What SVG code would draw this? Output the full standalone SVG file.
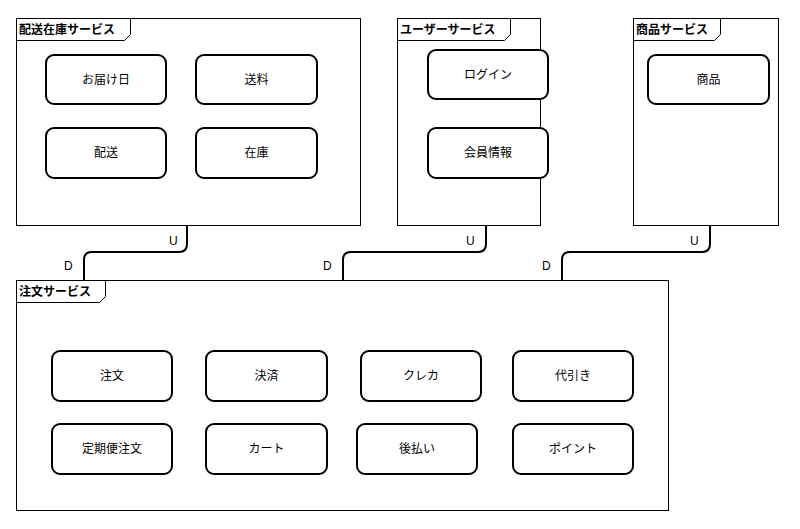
<svg xmlns="http://www.w3.org/2000/svg" width="800" height="529" viewBox="0 0 800 529">
<style>
.fr{fill:#fff;stroke:#000;stroke-width:1}
.tab{fill:#fff;stroke:#000;stroke-width:1}
.tt{font-family:"Liberation Sans","Noto Sans CJK JP",sans-serif;font-size:12px;font-weight:bold}
.nd{fill:#fff;stroke:#000;stroke-width:2}
.nt{font-family:"Liberation Sans","Noto Sans CJK JP",sans-serif;font-size:12px;text-anchor:middle;dominant-baseline:central}
.cn{fill:none;stroke:#000;stroke-width:2}
.lb{font-family:"Liberation Sans","Noto Sans CJK JP",sans-serif;font-size:12px}
</style>
<rect width="800" height="529" fill="#fff"/>
<g id="frame-haiso">
<rect class="fr" x="16.5" y="18.5" width="344" height="207"/>
<path class="tab" d="M16.5 18.5H130.5V34.5L124.5 40.5H16.5Z"/>
<text class="tt" x="19" y="34">配送在庫サービス</text>
</g>
<g id="frame-user">
<rect class="fr" x="397.5" y="18.5" width="143" height="207"/>
<path class="tab" d="M397.5 18.5H510.5V34.5L504.5 40.5H397.5Z"/>
<text class="tt" x="400" y="34">ユーザーサービス</text>
</g>
<g id="frame-shohin">
<rect class="fr" x="633.5" y="18.5" width="145" height="207"/>
<path class="tab" d="M633.5 18.5H720.5V34.5L714.5 40.5H633.5Z"/>
<text class="tt" x="636" y="34">商品サービス</text>
</g>
<g id="frame-order">
<rect class="fr" x="16.5" y="280.5" width="652" height="230"/>
<path class="tab" d="M16.5 280.5H105.5V296.5L99.5 302.5H16.5Z"/>
<text class="tt" x="19" y="296">注文サービス</text>
</g>
<g id="n-otodoke"><rect class="nd" x="46" y="55" width="120" height="49" rx="8"/><text class="nt" x="106" y="79.5">お届け日</text></g>
<g id="n-soryo"><rect class="nd" x="196" y="55" width="121" height="49" rx="8"/><text class="nt" x="256.5" y="79.5">送料</text></g>
<g id="n-haiso"><rect class="nd" x="46" y="128" width="120" height="50" rx="8"/><text class="nt" x="106" y="153">配送</text></g>
<g id="n-zaiko"><rect class="nd" x="196" y="128" width="121" height="50" rx="8"/><text class="nt" x="256.5" y="153">在庫</text></g>
<g id="n-login"><rect class="nd" x="428" y="50" width="120" height="49" rx="8"/><text class="nt" x="488" y="74.5">ログイン</text></g>
<g id="n-kaiin"><rect class="nd" x="428" y="128" width="120" height="50" rx="8"/><text class="nt" x="488" y="153">会員情報</text></g>
<g id="n-shohin"><rect class="nd" x="648" y="55" width="121" height="49" rx="8"/><text class="nt" x="708.5" y="79.5">商品</text></g>
<g id="n-chumon"><rect class="nd" x="52" y="351" width="120" height="50" rx="8"/><text class="nt" x="112" y="376">注文</text></g>
<g id="n-kessai"><rect class="nd" x="206" y="351" width="121" height="50" rx="8"/><text class="nt" x="266.5" y="376">決済</text></g>
<g id="n-kureka"><rect class="nd" x="361" y="351" width="120" height="50" rx="8"/><text class="nt" x="421" y="376">クレカ</text></g>
<g id="n-daibiki"><rect class="nd" x="513" y="351" width="120" height="50" rx="8"/><text class="nt" x="573" y="376">代引き</text></g>
<g id="n-teiki"><rect class="nd" x="52" y="424" width="120" height="50" rx="8"/><text class="nt" x="112" y="449">定期便注文</text></g>
<g id="n-cart"><rect class="nd" x="206" y="424" width="121" height="50" rx="8"/><text class="nt" x="266.5" y="449">カート</text></g>
<g id="n-atobarai"><rect class="nd" x="357" y="424" width="120" height="50" rx="8"/><text class="nt" x="417" y="449">後払い</text></g>
<g id="n-point"><rect class="nd" x="513" y="424" width="120" height="50" rx="8"/><text class="nt" x="573" y="449">ポイント</text></g>
<g id="connectors">
<path class="cn" d="M187 225V244Q187 252 179 252H92Q84 252 84 260V280"/>
<path class="cn" d="M486 225V244Q486 252 478 252H351Q343 252 343 260V280"/>
<path class="cn" d="M710 225V244Q710 252 702 252H570Q562 252 562 260V280"/>
<text class="lb" x="169" y="245">U</text>
<text class="lb" x="64" y="270">D</text>
<text class="lb" x="466" y="245">U</text>
<text class="lb" x="323" y="270">D</text>
<text class="lb" x="690" y="245">U</text>
<text class="lb" x="542" y="270">D</text>
</g>
</svg>
